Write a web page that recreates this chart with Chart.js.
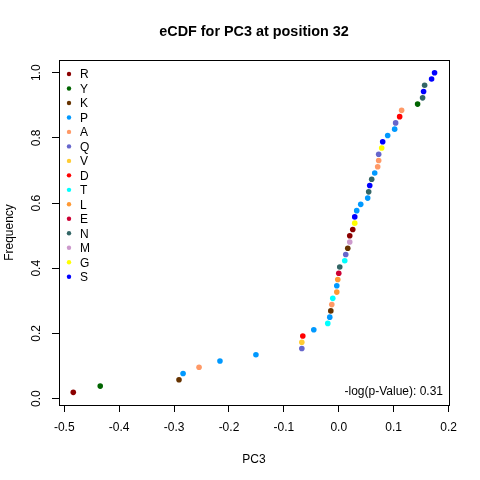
<!DOCTYPE html>
<html>
<head>
<meta charset="utf-8">
<script src="https://cdn.jsdelivr.net/npm/chart.js@4"></script>
<style>
    html, body { margin: 0; padding: 0; background: #fff; }
    #wrap { width: 480px; height: 480px; }
</style>
</head>
<body>
<div id="wrap"><canvas id="ecdfChart" width="480" height="480"></canvas></div>
<script>
/* Data */
// PC3 values, sorted
const pc3Values = [-0.4836, -0.4345, -0.291, -0.2836, -0.2545, -0.2164, -0.1509, -0.0673, -0.0673, -0.0655,
    -0.0455, -0.0200, -0.0164, -0.0145, -0.0127, -0.0109, -0.0036, -0.0036, -0.0018, 0.0,
    0.0018, 0.0109, 0.0127, 0.0164, 0.02, 0.02, 0.0255, 0.0291, 0.0291, 0.0327,
    0.04, 0.0527, 0.0545, 0.0564, 0.06, 0.0655, 0.0709, 0.0727, 0.0727, 0.0782,
    0.08, 0.0891, 0.1018, 0.1036, 0.1109, 0.1145, 0.1436, 0.1527, 0.1545, 0.1564,
    0.1691, 0.1745];
// residue at position 32 for each point (same order)
const residues = ['R', 'Y', 'K', 'P', 'A', 'P', 'P', 'Q', 'V', 'D',
    'P', 'T', 'P', 'K', 'A', 'T', 'L', 'P', 'L', 'E',
    'N', 'T', 'Q', 'K', 'M', 'R', 'R', 'G', 'S', 'P',
    'P', 'P', 'N', 'S', 'N', 'P', 'A', 'A', 'Q', 'G',
    'S', 'P', 'P', 'Q', 'D', 'A', 'Y', 'N', 'S', 'N',
    'S', 'S'];
const legendLetters = ['R', 'Y', 'K', 'P', 'A', 'Q', 'V', 'D', 'T', 'L', 'E', 'N', 'M', 'G', 'S'];
const legendColors = ['#8B0000', '#006400', '#663300', '#0099FF', '#FF9966', '#6666CC', '#FFCC33', '#FF0000',
    '#00FFFF', '#FF9933', '#CC0033', '#336666', '#CC99CC', '#FFFF00', '#0000FF'];
const xTicks = [-0.5, -0.4, -0.3, -0.2, -0.1, 0.0, 0.1, 0.2];
const yTicks = [0.0, 0.2, 0.4, 0.6, 0.8, 1.0];
const titleText = 'eCDF for PC3 at position 32';
const pValueText = '-log(p-Value): 0.31';

const FONT = 'Liberation Sans, Arial, sans-serif';

// eCDF: rank / n
const n = pc3Values.length;
const points = pc3Values.map((v, i) => ({ x: v, y: (i + 1) / n }));
const colorOf = (r) => legendColors[legendLetters.indexOf(r)];
const pointColors = residues.map(colorOf);

/* R style decorations: title, box, tick labels, axis titles, legend, note */
const rDecor = {
    id: 'rDecor',
    afterDraw(chart) {
        const c = chart.ctx;
        const a = chart.chartArea;
        const ys = chart.scales.y;
        const xs = chart.scales.x;
        const midX = (a.left + a.right) / 2;
        c.save();
        c.strokeStyle = '#000';
        c.lineWidth = 1;
        c.strokeRect(a.left + 0.5, a.top + 0.5, a.right - a.left, a.bottom - a.top);

        c.fillStyle = '#000';
        c.textAlign = 'center';
        c.textBaseline = 'middle';
        // main title (centred over the plot box, like R)
        c.font = 'bold 14.4px ' + FONT;
        c.fillText(titleText, midX, 32);

        c.font = '12px ' + FONT;
        // x tick labels
        xTicks.forEach(t => {
            c.fillText(t.toFixed(1), xs.getPixelForValue(t), 428);
        });
        // y tick labels (rotated, like R las=0)
        yTicks.forEach(t => {
            c.save();
            c.translate(37, ys.getPixelForValue(t));
            c.rotate(-Math.PI / 2);
            c.fillText(t.toFixed(1), 0, 0);
            c.restore();
        });
        // axis titles
        c.fillText('PC3', midX, 460);
        c.save();
        c.translate(10, (a.top + a.bottom) / 2);
        c.rotate(-Math.PI / 2);
        c.fillText('Frequency', 0, 0);
        c.restore();

        // legend
        c.textAlign = 'left';
        legendLetters.forEach((l, i) => {
            const y = a.top + 14 + i * 14.48;
            c.fillStyle = legendColors[i];
            c.beginPath();
            c.arc(69, y, 2.2, 0, Math.PI * 2);
            c.fill();
            c.fillStyle = '#000';
            c.fillText(l, 80, y + 1);
        });

        // p-value note
        c.textAlign = 'right';
        c.fillText(pValueText, a.right - 6, 392);
        c.restore();
    }
};

const chartEl = document.getElementById('ecdfChart');

new Chart(chartEl, {
    type: 'scatter',
    data: {
        datasets: [{
            label: 'eCDF',
            data: points,
            backgroundColor: pointColors,
            borderWidth: 0,
            pointRadius: 2.8,
            pointHoverRadius: 2.8,
        }]
    },
    options: {
        responsive: false,
        animation: false,
        events: [],
        layout: {
            padding: { left: 0, right: 31, top: 60, bottom: 0 }
        },
        scales: {
            x: {
                type: 'linear',
                min: -0.5096,
                max: 0.2008,
                afterBuildTicks: (s) => { s.ticks = xTicks.map(v => ({ value: v })); },
                afterFit: (s) => { s.height = 75; },
                grid: { drawOnChartArea: false, drawTicks: true, tickLength: 7, color: '#000' },
                border: { display: true, color: '#000' },
                ticks: { display: false },
            },
            y: {
                type: 'linear',
                min: -0.0196,
                max: 1.0392,
                afterBuildTicks: (s) => { s.ticks = yTicks.map(v => ({ value: v })); },
                afterFit: (s) => { s.width = 59; },
                grid: { drawOnChartArea: false, drawTicks: true, tickLength: 7, color: '#000' },
                border: { display: true, color: '#000' },
                ticks: { display: false },
            }
        },
        plugins: {
            legend: { display: false },
            tooltip: { enabled: false },
            title: { display: false }
        }
    },
    plugins: [rDecor]
});
</script>
</body>
</html>
